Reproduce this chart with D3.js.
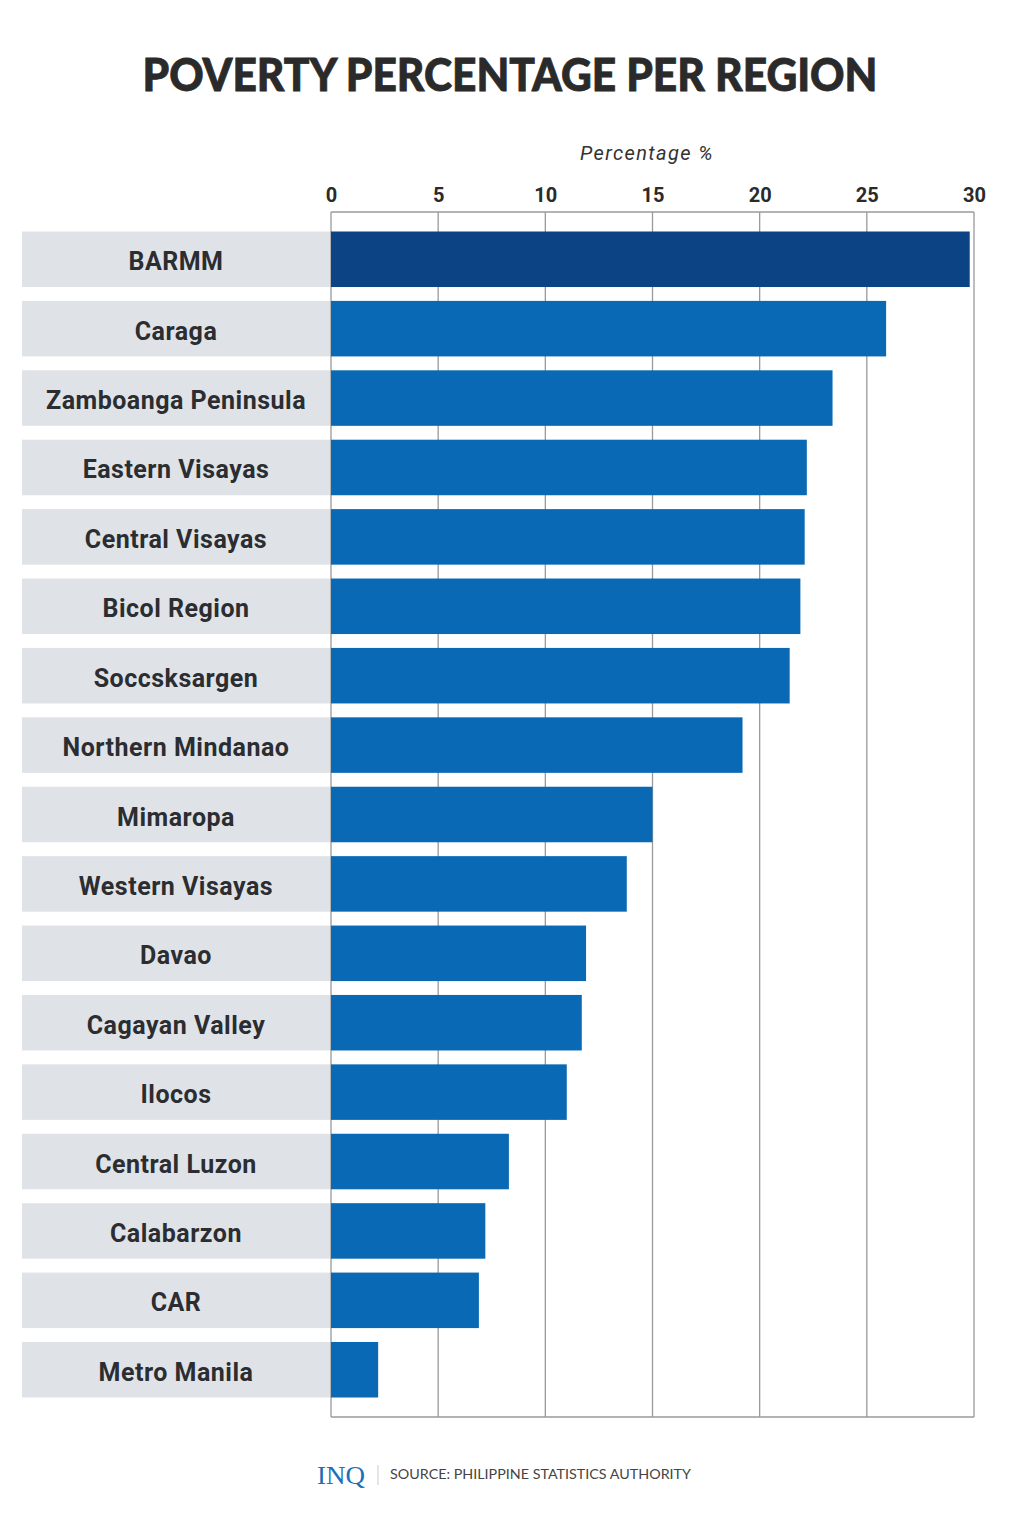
<!DOCTYPE html>
<html>
<head>
<meta charset="utf-8">
<script src="https://cdn.jsdelivr.net/npm/d3@7"></script>
<style>
  html, body { margin: 0; padding: 0; background: #ffffff; }
  svg { display: block; }
</style>
</head>
<body>
<svg id="chart" width="1010" height="1536"></svg>
<script>
const regions = ["BARMM", "Caraga", "Zamboanga Peninsula", "Eastern Visayas", "Central Visayas",
  "Bicol Region", "Soccsksargen", "Northern Mindanao", "Mimaropa", "Western Visayas", "Davao",
  "Cagayan Valley", "Ilocos", "Central Luzon", "Calabarzon", "CAR", "Metro Manila"];
const poverty = [29.8, 25.9, 23.4, 22.2, 22.1, 21.9, 21.4, 19.2, 15.0, 13.8, 11.9, 11.7, 11.0, 8.3, 7.2, 6.9, 2.2];
const tickValues = [0, 5, 10, 15, 20, 25, 30];
const highlight = "BARMM";

const svg = d3.select("#chart");

const x = d3.scaleLinear().domain([0, 30]).range([331, 974]);
const y = d3.scaleBand().domain(regions).range([231.5, 1397.5]).paddingInner(0.2).paddingOuter(0);

// Title
svg.append("text")
  .attr("x", 510).attr("y", 91)
  .attr("text-anchor", "middle")
  .attr("font-family", "Lato, 'Noto Sans', sans-serif")
  .attr("font-weight", 900)
  .attr("font-size", 45)
  .attr("fill", "#2a2a2a")
  .attr("stroke", "#2a2a2a")
  .attr("stroke-width", 0.8)
  .attr("textLength", 735)
  .attr("lengthAdjust", "spacingAndGlyphs")
  .text("POVERTY PERCENTAGE PER REGION");

// Axis title
svg.append("text")
  .attr("x", 647).attr("y", 160)
  .attr("text-anchor", "middle")
  .attr("font-family", "Roboto, sans-serif")
  .attr("font-style", "italic")
  .attr("font-size", 20)
  .attr("letter-spacing", 1.4)
  .attr("fill", "#333")
  .text("Percentage %");

// Label boxes
svg.append("g").selectAll("rect")
  .data(regions).join("rect")
  .attr("x", 22).attr("width", 331 - 22)
  .attr("y", d => y(d)).attr("height", y.bandwidth())
  .attr("fill", "#dfe3e8");

// Grid
const gridTop = 212, gridBottom = 1417;
const grid = svg.append("g");
grid.selectAll("line.v").data(tickValues).join("line")
  .attr("class", "v")
  .attr("x1", d => x(d)).attr("x2", d => x(d))
  .attr("y1", gridTop).attr("y2", gridBottom)
  .attr("stroke", "#9a9a9a").attr("stroke-width", 1.3);
grid.append("line").attr("x1", x(0)).attr("x2", x(30)).attr("y1", gridTop).attr("y2", gridTop)
  .attr("stroke", "#9a9a9a").attr("stroke-width", 1.3);
grid.append("line").attr("x1", x(0)).attr("x2", x(30)).attr("y1", gridBottom).attr("y2", gridBottom)
  .attr("stroke", "#9a9a9a").attr("stroke-width", 1.3);

// Top axis tick labels
const axis = d3.axisTop(x).tickValues(tickValues).tickSize(0).tickPadding(0).tickFormat(d3.format("d"));
const ag = svg.append("g").attr("transform", "translate(0,202)").call(axis);
ag.select(".domain").remove();
ag.selectAll("text")
  .attr("font-family", "Roboto, sans-serif")
  .attr("font-weight", 700)
  .attr("font-size", 20)
  .attr("fill", "#2a2a2a")
  .attr("dy", 0);

// Bars
svg.append("g").selectAll("rect")
  .data(regions).join("rect")
  .attr("x", x(0))
  .attr("y", d => y(d))
  .attr("height", y.bandwidth())
  .attr("width", (d, i) => x(poverty[i]) - x(0))
  .attr("fill", d => d === highlight ? "#0c4384" : "#0a69b4");

// Labels
svg.append("g").selectAll("text")
  .data(regions).join("text")
  .attr("x", 176)
  .attr("y", d => y(d) + y.bandwidth() / 2 + 11)
  .attr("text-anchor", "middle")
  .attr("font-family", "Roboto, sans-serif")
  .attr("font-weight", 700)
  .attr("font-size", 25)
  .attr("letter-spacing", 0.5)
  .attr("fill", "#2b2d31")
  .text(d => d);

// Footer
svg.append("text")
  .attr("x", 317).attr("y", 1484)
  .attr("font-family", "'Liberation Serif', serif")
  .attr("font-size", 25)
  .attr("fill", "#1c70b8")
  .attr("textLength", 48)
  .attr("lengthAdjust", "spacingAndGlyphs")
  .text("INQ");
svg.append("line")
  .attr("x1", 378).attr("x2", 378).attr("y1", 1465).attr("y2", 1485)
  .attr("stroke", "#cccccc").attr("stroke-width", 1);
svg.append("text")
  .attr("x", 390).attr("y", 1479)
  .attr("font-family", "Lato, sans-serif")
  .attr("font-size", 13)
  .attr("fill", "#444")
  .attr("textLength", 301)
  .attr("lengthAdjust", "spacingAndGlyphs")
  .text("SOURCE: PHILIPPINE STATISTICS AUTHORITY");
</script>
</body>
</html>
